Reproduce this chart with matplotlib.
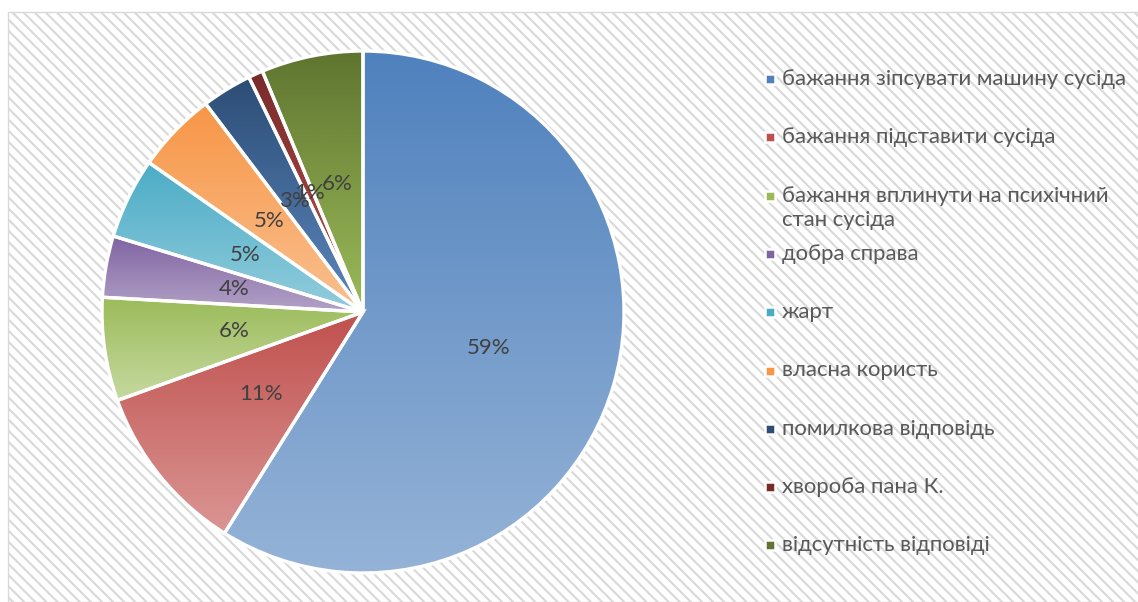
import numpy as np
import matplotlib
matplotlib.use("Agg")
import matplotlib.pyplot as plt
from matplotlib.patches import Rectangle
from matplotlib.lines import Line2D
from matplotlib.colors import to_rgb

# ---- data ----
categories = [
    "бажання зіпсувати машину сусіда",
    "бажання підставити сусіда",
    "бажання вплинути на психічний\nстан сусіда",
    "добра справа",
    "жарт",
    "власна користь",
    "помилкова відповідь",
    "хвороба пана К.",
    "відсутність відповіді",
]
values = [58.9, 10.6, 6.4, 3.8, 5.0, 5.0, 3.1, 0.9, 6.3]
top_colors = ["#4F81BD", "#C0504D", "#9BBB59", "#8064A2", "#4BACC6",
              "#F79646", "#2C4D75", "#772C2A", "#5F7530"]
bottom_colors = ["#95B3D7", "#DA9694", "#C6D9A0", "#B3A2C7", "#93CDDD",
                 "#FAC090", "#5C87BE", "#C0504D", "#9BBB59"]

W, H = 1138, 602
plt.rcParams['hatch.linewidth'] = 1.5
plt.rcParams['hatch.color'] = '#E2E2E2'
fig = plt.figure(figsize=(W / 100, H / 100), dpi=100)
fig.patch.set_facecolor('white')

# background with hatch
bg = Rectangle((8 / W, 0), 1.0, (H - 12) / H, transform=fig.transFigure,
               facecolor='white', edgecolor='#D9D9D9', linewidth=1.0,
               hatch='\\\\\\', zorder=0)
fig.add_artist(bg)

# pie axes
cx, cy, r = 363, 312, 261
ax = fig.add_axes([(cx - r) / W, (H - cy - r) / H, 2 * r / W, 2 * r / H])
ax.set_facecolor('none')
wedges, texts, autotexts = ax.pie(
    values, startangle=90, counterclock=False, radius=1.0,
    autopct='%.0f%%', pctdistance=0.5,
    wedgeprops=dict(edgecolor='white', linewidth=2.4, facecolor='none'),
    textprops=dict(color='#404040', fontsize=16, family='Lato'))
ax.set_aspect('equal')
ax.axis('off')

for w, tc, bc in zip(wedges, top_colors, bottom_colors):
    bb = w.get_path().get_extents(w.get_patch_transform())
    x0, y0, x1, y1 = bb.x0, bb.y0, bb.x1, bb.y1
    t = np.linspace(0, 1, 256)[:, None]
    c0 = np.array(to_rgb(tc)); c1 = np.array(to_rgb(bc))
    grad = (c0[None, :] * (1 - t) + c1[None, :] * t)[:, None, :]
    im = ax.imshow(grad, extent=(x0, x1, y0, y1), origin='upper',
                   aspect='auto', zorder=1, interpolation='bilinear')
    im.set_clip_path(w)
    w.set_zorder(2)
    w.set_clip_on(False)
for t_ in autotexts:
    t_.set_zorder(3)
ax.set_xlim(-1.0, 1.0)
ax.set_ylim(-1.0, 1.0)

# legend (manual, uniform spacing like the reference)
leg_y0, leg_dy, line_dy = 79, 58.3, 24
mx, tx = 770, 782
fs = 15.9
for i, (lab, col) in enumerate(zip(categories, top_colors)):
    y = leg_y0 + i * leg_dy
    ln = Line2D([mx / W], [1 - y / H], transform=fig.transFigure,
                marker='s', markersize=7.0, markerfacecolor=col,
                markeredgecolor='white', markeredgewidth=1.8, linestyle='none')
    fig.add_artist(ln)
    for k, part in enumerate(lab.split('\n')):
        fig.text(tx / W, 1 - (y + k * line_dy) / H, part, color='#595959',
                 fontsize=fs, family='Lato', va='center', ha='left')

fig.savefig('out.png', dpi=100, facecolor='white')
